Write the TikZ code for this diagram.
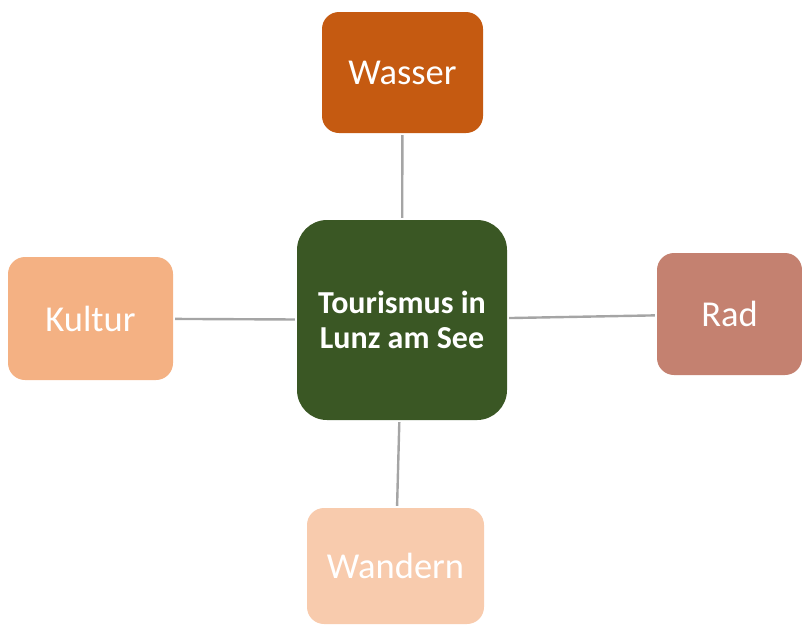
\documentclass[tikz,border=0pt]{standalone}
\usepackage{fontspec}
\setmainfont{Carlito}
\usetikzlibrary{positioning}
\definecolor{LakeGreen}{RGB}{58,87,36}
\definecolor{WaterOrange}{RGB}{197,90,17}
\definecolor{CultureApricot}{RGB}{244,177,131}
\definecolor{BikeRose}{RGB}{196,129,112}
\definecolor{HikePeach}{RGB}{248,203,173}
\definecolor{LinkGray}{RGB}{165,165,165}
\tikzset{
  topic/.style={rounded corners=17pt,text=white,inner sep=0pt,align=center,
    font=\fontsize{36.5}{40}\selectfont},
  link/.style={draw=LinkGray,line width=2.4pt,shorten >=2pt,shorten <=2pt}
}

\begin{document}
\begin{tikzpicture}[x=1pt,y=-1pt]
  \useasboundingbox (0,0) rectangle (802,625);
  \node[topic,fill=LakeGreen,minimum width=210pt,minimum height=200pt,rounded corners=30pt,
    font=\bfseries\fontsize{32}{35}\selectfont] (hub) at (402,320) {Tourismus in\\Lunz am See};
  \node[topic,fill=WaterOrange,minimum width=161pt,minimum height=121pt] (wasser) at (402.5,72.5) {Wasser};
  \node[topic,fill=CultureApricot,minimum width=165pt,minimum height=123pt] (kultur) at (90.5,318.5) {Kultur};
  \node[topic,fill=BikeRose,minimum width=145pt,minimum height=122pt] (rad) at (729.5,314) {Rad};
  \node[topic,fill=HikePeach,minimum width=177pt,minimum height=116pt] (wandern) at (395.5,566) {Wandern};
  \draw[link] (wasser) -- (hub);
  \draw[link] (kultur) -- (hub);
  \draw[link] (hub) -- (rad);
  \draw[link] (hub) -- (wandern);
\end{tikzpicture}
\end{document}
